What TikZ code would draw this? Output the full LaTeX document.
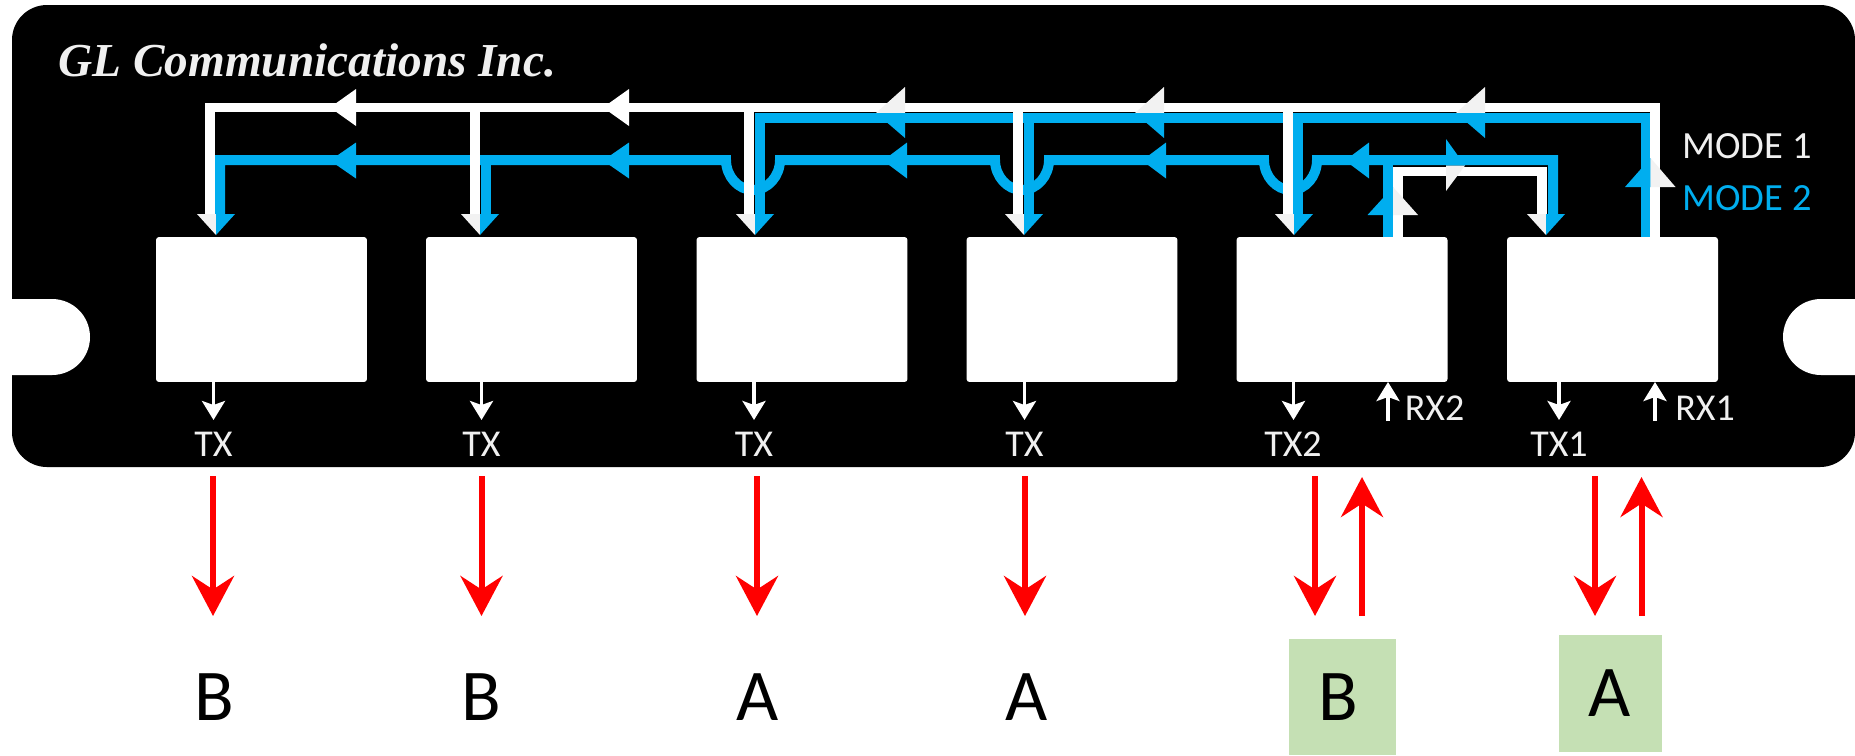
\documentclass[tikz,border=0pt]{standalone}
\usepackage{fontspec}
\setmainfont{Carlito}
\newfontfamily\titlefont[BoldItalicFont={Liberation Serif Bold Italic}]{Liberation Serif}
\usetikzlibrary{arrows.meta}
\definecolor{modeblue}{HTML}{00AEEF}
\definecolor{headwhite}{HTML}{F2F2F2}
\definecolor{panelgreen}{HTML}{C5E0B4}
\definecolor{labelwhite}{HTML}{F0F0F0}
\tikzset{
  x=0.02cm,y=-0.02cm,
  portbox/.style={draw=none,fill=white,rounded corners=0.06cm,minimum width=4.22cm,minimum height=2.9cm,inner sep=0pt},
  portlabel/.style={text=labelwhite,inner sep=0pt,font=\fontsize{21.6}{24}\selectfont},
  modelabel/.style={inner sep=0pt,font=\fontsize{21.9}{25}\selectfont},
  endlabel/.style={inner sep=0pt,text=black,font=\fontsize{41.5}{46}\selectfont},
  greenbox/.style={endlabel,fill=panelgreen,minimum width=2.1cm,minimum height=2.33cm},
  whiteline/.style={draw=white,line width=0.19cm,line join=miter},
  blueline/.style={draw=modeblue,line width=0.2cm,line join=miter},
  smallarrow/.style={draw=white,line width=0.07cm,-{Stealth[length=0.38cm,width=0.46cm,inset=0.08cm]}},
  redarrow/.style={draw=red,line width=0.12cm,-{Stealth[length=0.8cm,width=0.84cm,inset=0.27cm]}},
  whitehead/.style={fill=headwhite},
  bluehead/.style={fill=modeblue}
}
\begin{document}
\begin{tikzpicture}
\useasboundingbox (0,0) rectangle (1855,755);
\fill[white] (0,0) rectangle (1855,755);
% panel
\fill[black,rounded corners=0.7cm] (12,5) rectangle (1855,467);
\fill[white] (0,299) -- (52,299) .. controls (73,299) and (90,316) .. (90,337) .. controls (90,358) and (73,375) .. (52,375) -- (0,375) -- cycle;
\fill[white] (1855,299) -- (1821,299) .. controls (1800,299) and (1783,316) .. (1783,337) .. controls (1783,358) and (1800,375) .. (1821,375) -- (1855,375) -- cycle;
\node[anchor=west,inner sep=0pt,text=labelwhite,font=\titlefont\bfseries\itshape\fontsize{26.9}{30}\selectfont] (title) at (58,60) {GL Communications Inc.};
% ports
\node[portbox] (p1) at (261.5,309.5) {};
\node[portbox] (p2) at (531.5,309.5) {};
\node[portbox] (p3) at (802,309.5) {};
\node[portbox] (p4) at (1072,309.5) {};
\node[portbox] (p5) at (1342,309.5) {};
\node[portbox] (p6) at (1612.5,309.5) {};
% blue routes
\coordinate (bA) at (220,214);
\coordinate (bB) at (220,160);
\coordinate (bC) at (1553,160);
\coordinate (bD) at (1553,214);
\draw[blueline] (bA) -- (bB) -- (726,160)
  .. controls (726,176) and (738,190) .. (753,190)
  .. controls (768,190) and (780,176) .. (780,160) -- (995,160)
  .. controls (995,176) and (1007,190) .. (1022,190)
  .. controls (1037,190) and (1049,176) .. (1049,160) -- (1264,160)
  .. controls (1264,176) and (1276,190) .. (1291,190)
  .. controls (1306,190) and (1317,176) .. (1317,160) -- (bC) -- (bD);
\draw[blueline] (486,155) -- (486,214);
\coordinate (bE) at (1645.5,237);
\coordinate (bF) at (1645.5,118);
\coordinate (bG) at (760,118);
\coordinate (bH) at (760,214);
\draw[blueline] (bE) -- (bF) -- (bG) -- (bH);
\draw[blueline] (1029,118) -- (1029,214);
\draw[blueline] (1298,118) -- (1298,214);
\draw[blueline] (1388,237) -- (1388,160);
% white routes
\coordinate (wA) at (1655,237);
\coordinate (wB) at (1655,107.5);
\coordinate (wC) at (210,107.5);
\coordinate (wD) at (210,214);
\draw[whiteline] (wA) -- (wB) -- (wC) -- (wD);
\foreach \x in {475,749,1018,1288} \draw[whiteline] (\x,107.5) -- (\x,214);
\draw[whiteline] (1398,237) -- (1398,171.5) -- (1542,171.5) -- (1542,214);
% down heads, split white and blue
\foreach \t in {216,480,755,1024,1294,1546} {
  \fill[whitehead] (\t-19,214) -- (\t,214) -- (\t,235) -- cycle;
  \fill[bluehead] (\t+19,214) -- (\t,214) -- (\t,235) -- cycle;
}
% left heads on the first stretch
\foreach \t in {330,603} {
  \fill[white] (\t,107.5) -- (\t+26,89) -- (\t+26,126) -- cycle;
  \fill[bluehead] (\t,160.5) -- (\t+26,142.5) -- (\t+26,178.5) -- cycle;
}
% split top heads
\foreach \t in {876,1135,1456} {
  \fill[whitehead] (\t,113) -- (\t+29,87) -- (\t+29,113) -- cycle;
  \fill[bluehead] (\t,113) -- (\t+29,138) -- (\t+29,113) -- cycle;
}
% second row heads
\foreach \t in {883,1142,1345} {
  \fill[bluehead] (\t,160.5) -- (\t+24,142.5) -- (\t+24,178.5) -- cycle;
}
% right head on the TX1 loop
\fill[bluehead] (1465,165.5) -- (1446,139) -- (1446,165.5) -- cycle;
\fill[whitehead] (1465,165.5) -- (1446,191) -- (1446,165.5) -- cycle;
% up heads
\fill[bluehead] (1393,187) -- (1367.5,215) -- (1393,215) -- cycle;
\fill[whitehead] (1393,187) -- (1418,215) -- (1393,215) -- cycle;
\fill[bluehead] (1650.5,158) -- (1625,187) -- (1650.5,187) -- cycle;
\fill[whitehead] (1650.5,158) -- (1675.5,187) -- (1650.5,187) -- cycle;
% mode labels
\node[modelabel,text=labelwhite] (m1) at (1747,146) {MODE 1};
\node[modelabel,text=modeblue] (m2) at (1747,198) {MODE 2};
% port labels and small arrows
\node[portlabel] (t1) at (213.5,444) {TX};
\node[portlabel] (t2) at (481.5,444) {TX};
\node[portlabel] (t3) at (754,444) {TX};
\node[portlabel] (t4) at (1024.5,444) {TX};
\node[portlabel] (t5) at (1293,444) {TX2};
\node[portlabel] (t6) at (1559,444) {TX1};
\node[portlabel] (r5) at (1434.5,408.5) {RX2};
\node[portlabel] (r6) at (1705,408.5) {RX1};
\foreach \n/\x in {a/213.5,b/481.5,c/754,d/1024.5,e/1293.5,f/1559} {
  \coordinate (sa\n) at (\x,382);
  \coordinate (sb\n) at (\x,420);
  \draw[smallarrow] (sa\n) -- (sb\n);
}
\foreach \n/\x in {g/1388,h/1655} {
  \coordinate (sa\n) at (\x,421);
  \coordinate (sb\n) at (\x,382);
  \draw[smallarrow] (sa\n) -- (sb\n);
}
% end labels
\node[endlabel] (e1) at (214,697) {B};
\node[endlabel] (e2) at (481.5,697) {B};
\node[endlabel] (e3) at (758,697) {A};
\node[endlabel] (e4) at (1027,697) {A};
\node[greenbox,minimum width=2.14cm,minimum height=2.32cm] (e5) at (1342,697) {B\kern0.14cm};
\node[greenbox,minimum width=2.06cm,minimum height=2.34cm] (e6) at (1610,693.5) {A};
% red arrows
\foreach \n/\x in {a/213,b/481.5,c/757,d/1025,e/1315,f/1595} {
  \coordinate (ra\n) at (\x,476);
  \coordinate (rb\n) at (\x,616);
  \draw[redarrow] (ra\n) -- (rb\n);
}
\foreach \n/\x in {g/1362,h/1641.5} {
  \coordinate (ra\n) at (\x,616);
  \coordinate (rb\n) at (\x,477);
  \draw[redarrow] (ra\n) -- (rb\n);
}
\end{tikzpicture}
\end{document}
